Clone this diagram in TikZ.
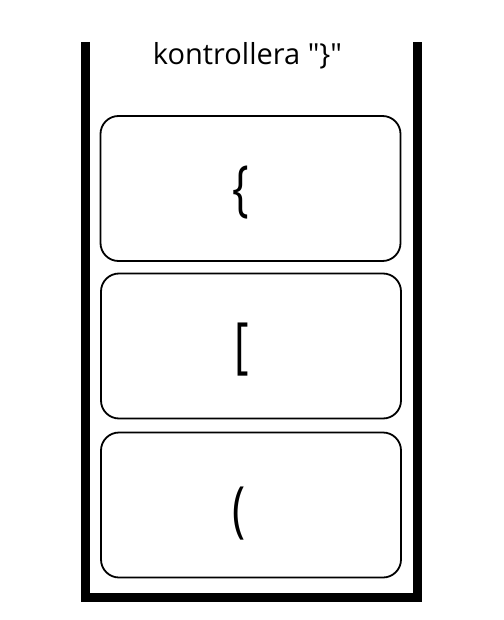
\documentclass[tikz,border=0pt]{standalone}
\usepackage{fontspec}
\setmainfont{Open Sans}[Ligatures=TeXOff]
\usepackage{tikz}
\tikzstyle{Wall}=[draw=black,line width=9pt,line join=miter]
\tikzstyle{Slot}=[rectangle,draw=black,rounded corners=18pt,line width=1.8pt,
minimum width=300pt,minimum height=145pt,inner sep=0pt]
\tikzstyle{Sym}=[font=\fontsize{61}{66}\selectfont,inner sep=0pt,xscale=.72]
\tikzstyle{Title}=[font=\fontsize{29}{33}\selectfont,inner sep=0pt,anchor=base]

\begin{document}
\begin{tikzpicture}[x=1pt,y=-1pt]
            \useasboundingbox(0,0)rectangle(503,620);
            \coordinate(tl)at(85.5,42);
            \coordinate(bl)at(85.5,597.5);
            \coordinate(br)at(417,597.5);
            \coordinate(tr)at(417,42);
            \draw[Wall](tl)--(bl)--(br)--(tr);
            \node[Title](t)at(247.5,65){kontrollera "\}"};
            \node[Slot](b1)at(250.5,188.5){};
            \node[Slot](b2)at(251,346){};
            \node[Slot](b3)at(251,505){};
            \node[Sym](s1)at(241,192.5){\{};
            \node[Sym](s2)at(242,350){[};
            \node[Sym](s3)at(239,513.5){(};
        \end{tikzpicture}
\end{document}
